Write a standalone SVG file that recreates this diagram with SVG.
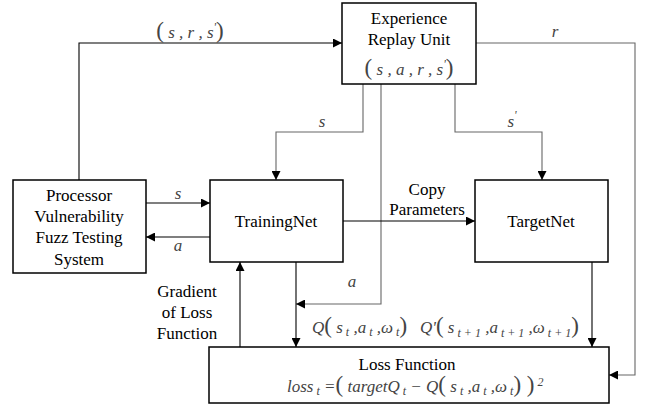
<svg xmlns="http://www.w3.org/2000/svg" width="646" height="407" viewBox="0 0 646 407" font-family="Liberation Serif, Times New Roman, serif">
  <style>
    .box { fill: #fff; stroke: #000; stroke-width: 1.5; }
    .ln { fill: none; stroke: #000; stroke-width: 1.1; }
    .lg { fill: none; stroke: #666; stroke-width: 1.1; }
    .t { font-size: 17px; fill: #000; text-anchor: middle; }
    .m { font-style: italic; font-size: 17px; fill: #444; }
    .p { font-style: normal; font-size: 23px; }
    .sub { font-size: 12px; }
  </style>
  <defs>
    <marker id="ah" viewBox="0 0 10 10" refX="10" refY="5" markerWidth="9" markerHeight="9" markerUnits="userSpaceOnUse" orient="auto">
      <path d="M0,0 L10,5 L0,10 z" fill="#000"/>
    </marker>
  </defs>

  <!-- connectors -->
  <g id="connectors">
    <!-- (s,r,s') from fuzz system to replay unit -->
    <path class="ln" d="M79,180 V43 H342" marker-end="url(#ah)"/>
    <!-- r to loss function -->
    <path class="lg" d="M476,43 H635 V375 H609" marker-end="url(#ah)"/>
    <!-- s to TrainingNet -->
    <path class="lg" d="M363,84 V132 H276 V180" marker-end="url(#ah)"/>
    <!-- a down to loss input -->
    <path class="lg" d="M381,84 V304 H296" marker-end="url(#ah)"/>
    <!-- s' to TargetNet -->
    <path class="lg" d="M455,84 V132 H542 V180" marker-end="url(#ah)"/>
    <!-- s / a between fuzz system and TrainingNet -->
    <path class="ln" d="M146,203 H210" marker-end="url(#ah)"/>
    <path class="ln" d="M210,237 H146" marker-end="url(#ah)"/>
    <!-- copy parameters -->
    <path class="ln" d="M343,221 H475" marker-end="url(#ah)"/>
    <!-- gradient -->
    <path class="ln" d="M240,347 V262" marker-end="url(#ah)"/>
    <!-- Q outputs -->
    <path class="ln" d="M296,262 V347" marker-end="url(#ah)"/>
    <path class="ln" d="M592,262 V347" marker-end="url(#ah)"/>

    <!-- connector labels -->
    <text class="m" x="190" y="38" text-anchor="middle"><tspan class="p">(</tspan> s , r , s<tspan class="sub" dy="-7">'</tspan><tspan class="p" dy="7">)</tspan></text>
    <text class="m" x="555" y="37" text-anchor="middle" fill="#000">r</text>
    <text class="m" x="322" y="127" text-anchor="middle" fill="#000">s</text>
    <text class="m" x="512" y="127" text-anchor="middle" fill="#000">s<tspan class="sub" dy="-8">'</tspan></text>
    <text class="m" x="178" y="199" text-anchor="middle" fill="#000">s</text>
    <text class="m" x="178" y="251" text-anchor="middle" fill="#000">a</text>
    <text class="m" x="352" y="287" text-anchor="middle" fill="#000">a</text>
    <text class="t" x="427" y="195">Copy</text>
    <text class="t" x="427" y="215">Parameters</text>
    <text class="t" x="187" y="297">Gradient</text>
    <text class="t" x="187" y="318">of Loss</text>
    <text class="t" x="187" y="339">Function</text>
    <text class="m" x="312" y="333">Q<tspan class="p">(</tspan> s<tspan class="sub" dy="3"> t</tspan><tspan dy="-3"> ,</tspan>a<tspan class="sub" dy="3"> t</tspan><tspan dy="-3"> ,</tspan>ω<tspan class="sub" dy="3"> t</tspan><tspan class="p" dy="-3">)</tspan></text>
    <text class="m" x="420" y="333">Q'<tspan class="p">(</tspan> s<tspan class="sub" dy="4"> t + 1</tspan><tspan dy="-4"> ,</tspan>a<tspan class="sub" dy="4"> t + 1</tspan><tspan dy="-4"> ,</tspan>ω<tspan class="sub" dy="4"> t + 1</tspan><tspan class="p" dy="-4">)</tspan></text>
  </g>

  <g id="replay">
    <rect class="box" x="342" y="3" width="134" height="81"/>
    <text class="t" x="409" y="24">Experience</text>
    <text class="t" x="409" y="45">Replay Unit</text>
    <text class="m" x="409" y="75" text-anchor="middle"><tspan class="p">(</tspan> s , a , r , s<tspan class="sub" dy="-7">'</tspan><tspan class="p" dy="7">)</tspan></text>
  </g>

  <g id="fuzz">
    <rect class="box" x="13" y="180" width="133" height="93"/>
    <text class="t" x="79" y="201">Processor</text>
    <text class="t" x="79" y="222">Vulnerability</text>
    <text class="t" x="79" y="243">Fuzz Testing</text>
    <text class="t" x="79" y="265">System</text>
  </g>

  <g id="trainingnet">
    <rect class="box" x="210" y="180" width="133" height="82"/>
    <text class="t" x="276" y="227">TrainingNet</text>
  </g>

  <g id="targetnet">
    <rect class="box" x="475" y="180" width="133" height="82"/>
    <text class="t" x="541" y="227">TargetNet</text>
  </g>

  <g id="loss">
    <rect class="box" x="209" y="347" width="400" height="56"/>
    <text class="t" x="407" y="370">Loss Function</text>
    <text class="m" x="287" y="392" font-size="15">loss<tspan class="sub" dy="3"> t</tspan><tspan dy="-3"> =</tspan><tspan class="p" font-size="20">(</tspan> targetQ<tspan class="sub" dy="3"> t</tspan><tspan dy="-3"> − Q</tspan><tspan class="p" font-size="20">(</tspan> s<tspan class="sub" dy="3"> t</tspan><tspan dy="-3"> ,</tspan>a<tspan class="sub" dy="3"> t</tspan><tspan dy="-3"> ,</tspan>ω<tspan class="sub" dy="3"> t</tspan><tspan class="p" font-size="20" dy="-3">) )</tspan><tspan class="sub" dy="-6"> 2</tspan></text>
  </g>
</svg>
